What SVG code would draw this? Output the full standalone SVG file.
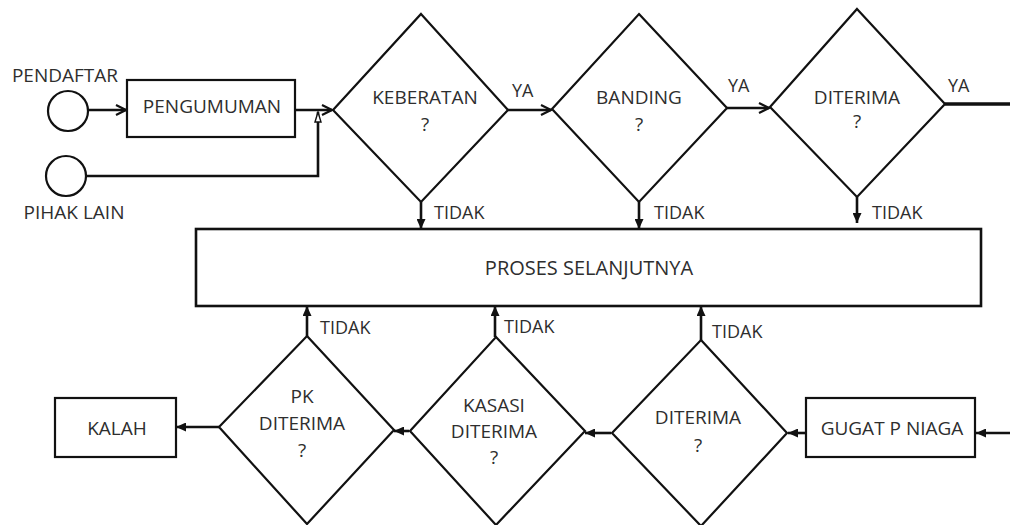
<svg xmlns="http://www.w3.org/2000/svg" width="1010" height="525" viewBox="0 0 1010 525">
<style>
.shape{fill:#fff;stroke:#111;stroke-width:2.2}
.conn{fill:none;stroke:#111;stroke-width:2.6}
.t{font-family:"Open Sans","Liberation Sans",sans-serif;font-size:19px;fill:#2e2e2e;text-anchor:middle}
.l{font-family:"Open Sans","Liberation Sans",sans-serif;font-size:18px;fill:#2e2e2e}
</style>
<defs>
<marker id="open" viewBox="0 0 12 12" refX="11" refY="6" markerWidth="12" markerHeight="12" markerUnits="userSpaceOnUse" orient="auto">
<path d="M1,1 L11,6 L1,11" fill="none" stroke="#111" stroke-width="2.2"/>
</marker>
<marker id="fill" viewBox="0 0 10 9" refX="10" refY="4.5" markerWidth="10" markerHeight="9" markerUnits="userSpaceOnUse" orient="auto">
<path d="M0,0 L10,4.5 L0,9 z" fill="#111"/>
</marker>
<marker id="hollow" viewBox="0 0 12 8" refX="11" refY="4" markerWidth="12" markerHeight="8" markerUnits="userSpaceOnUse" orient="auto">
<path d="M1,1 L11,4 L1,7 z" fill="#fff" stroke="#111" stroke-width="1.4"/>
</marker>
</defs>

<g id="connectors">
<path class="conn" d="M88,110 L126,110" marker-end="url(#open)"/>
<path class="conn" d="M295,110 L332,110" marker-end="url(#open)"/>
<path class="conn" d="M86,176 L318,176 L318,112" marker-end="url(#hollow)"/>
<path class="conn" d="M508,110 L551,110" marker-end="url(#open)"/>
<path class="conn" d="M727,108 L769,108" marker-end="url(#open)"/>
<path class="conn" d="M945,104 L1010,104" style="stroke-width:3.4"/>
<path class="conn" d="M421,202 L421,229" marker-end="url(#fill)"/>
<path class="conn" d="M639,202 L639,229" marker-end="url(#fill)"/>
<path class="conn" d="M857,197 L857,223" marker-end="url(#fill)"/>
<path class="conn" d="M307,336 L307,306" marker-end="url(#fill)"/>
<path class="conn" d="M495,337 L495,306" marker-end="url(#fill)"/>
<path class="conn" d="M701,340 L701,306" marker-end="url(#fill)"/>
<path class="conn" d="M219,427 L176,427" marker-end="url(#fill)"/>
<path class="conn" d="M409,431 L394,431" marker-end="url(#fill)"/>
<path class="conn" d="M611,433 L585,433" marker-end="url(#fill)"/>
<path class="conn" d="M806,433 L788,433" marker-end="url(#fill)"/>
<path class="conn" d="M1010,433 L976,433" marker-end="url(#fill)"/>
<text class="l" x="512" y="97">YA</text>
<text class="l" x="728" y="92">YA</text>
<text class="l" x="948" y="92">YA</text>
<text class="l" x="434" y="219">TIDAK</text>
<text class="l" x="654" y="219">TIDAK</text>
<text class="l" x="872" y="219">TIDAK</text>
<text class="l" x="320" y="334">TIDAK</text>
<text class="l" x="504" y="333">TIDAK</text>
<text class="l" x="712" y="338">TIDAK</text>
</g>

<g id="pendaftar">
<circle class="shape" cx="68" cy="111" r="20"/>
<text class="t" x="65" y="82">PENDAFTAR</text>
</g>
<g id="pihak-lain">
<circle class="shape" cx="66" cy="176" r="20"/>
<text class="t" x="74" y="219">PIHAK LAIN</text>
</g>
<g id="pengumuman">
<rect class="shape" x="127" y="80" width="168" height="57"/>
<text class="t" x="212" y="113">PENGUMUMAN</text>
</g>
<g id="keberatan">
<polygon class="shape" points="421,14 508,110 421,202 333,110"/>
<text class="t" x="425" y="104">KEBERATAN</text>
<text class="t" x="425" y="131">?</text>
</g>
<g id="banding">
<polygon class="shape" points="639,14 727,108 639,202 552,109"/>
<text class="t" x="639" y="104">BANDING</text>
<text class="t" x="639" y="131">?</text>
</g>
<g id="diterima-1">
<polygon class="shape" points="857,9 945,104 857,197 770,107"/>
<text class="t" x="857" y="104">DITERIMA</text>
<text class="t" x="857" y="128">?</text>
</g>
<g id="proses">
<rect class="shape" x="196" y="229" width="785" height="77" style="stroke-width:2.6"/>
<text class="t" x="589" y="275" style="font-size:20px">PROSES SELANJUTNYA</text>
</g>
<g id="kalah">
<rect class="shape" x="55" y="398" width="121" height="59"/>
<text class="t" x="117" y="435">KALAH</text>
</g>
<g id="pk-diterima">
<polygon class="shape" points="307,336 394,430 307,524 219,427"/>
<text class="t" x="302" y="403">PK</text>
<text class="t" x="302" y="430">DITERIMA</text>
<text class="t" x="302" y="457">?</text>
</g>
<g id="kasasi-diterima">
<polygon class="shape" points="496,337 585,431 496,525 410,431"/>
<text class="t" x="494" y="412">KASASI</text>
<text class="t" x="494" y="438">DITERIMA</text>
<text class="t" x="494" y="464">?</text>
</g>
<g id="diterima-2">
<polygon class="shape" points="701,340 787,433 701,526 612,433"/>
<text class="t" x="698" y="424">DITERIMA</text>
<text class="t" x="698" y="452">?</text>
</g>
<g id="gugat">
<rect class="shape" x="806" y="398" width="169" height="59"/>
<text class="t" x="892" y="435">GUGAT P NIAGA</text>
</g>
</svg>
